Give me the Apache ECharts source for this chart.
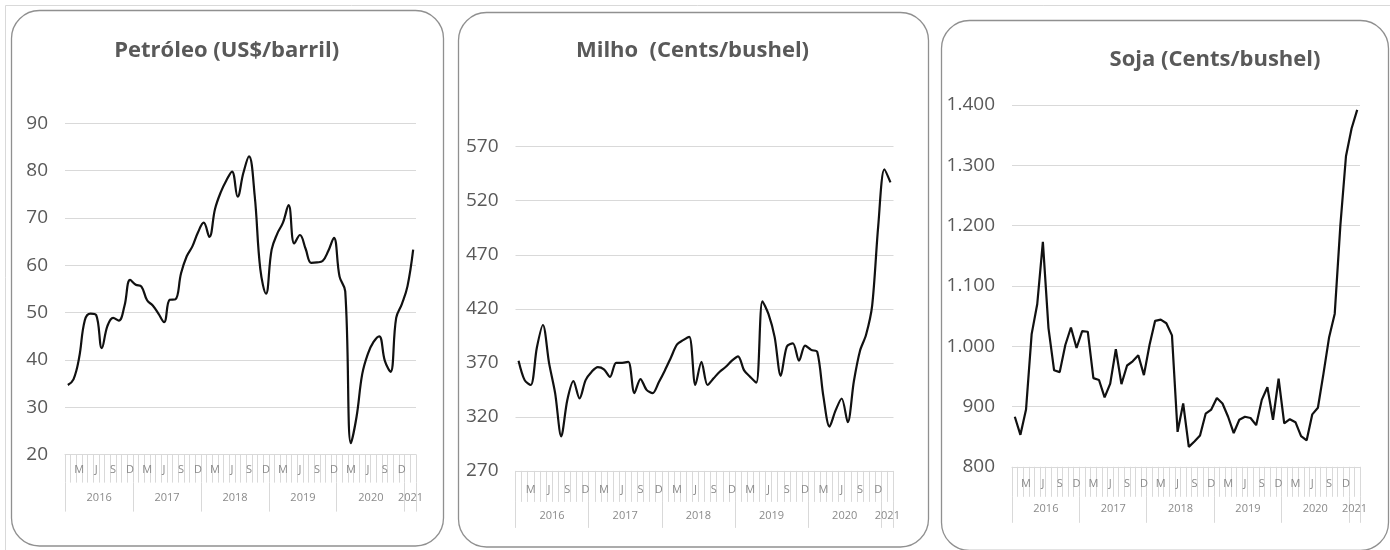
<!DOCTYPE html>
<html>
<head>
<meta charset="utf-8">
<script src="https://cdn.jsdelivr.net/npm/echarts@6/dist/echarts.min.js"></script>
<style>
html,body{margin:0;padding:0;background:#ffffff;}
#chart{width:1390px;height:550px;}
</style>
</head>
<body>
<div id="chart"></div>
<script>
// ---------- data ----------
const years = ['2016', '2017', '2018', '2019', '2020', '2021'];
const monthsPerYear = [12, 12, 12, 12, 12, 2];
const monthLetters = ['J', 'F', 'M', 'A', 'M', 'J', 'J', 'A', 'S', 'O', 'N', 'D'];
const shownMonths = [2, 5, 8, 11]; // M, J, S, D

const petroleoTicks = [20, 30, 40, 50, 60, 70, 80, 90];
const milhoTicks = [270, 320, 370, 420, 470, 520, 570];
const sojaTicks = [800, 900, 1000, 1100, 1200, 1300, 1400];

const petroleo = [
  34.7, 35.9, 40.5, 48.4, 49.8, 49.5, 42.5, 47.2, 48.9, 48.3, 51.4, 56.9,
  55.9, 55.5, 52.6, 51.5, 49.8, 48.0, 52.7, 52.8, 58.3, 61.9, 64.0, 67.0,
  69.0, 66.0, 71.9, 75.4, 77.9, 79.8, 74.5, 79.5, 83.0, 74.8, 59.2, 54.0,
  63.3, 66.7, 69.0, 72.7, 64.6, 66.4, 63.5, 60.5, 60.6, 60.9, 63.0, 65.8,
  57.6, 54.5, 22.4, 28.0, 37.0, 41.3, 43.8, 45.0, 39.8, 37.5, 48.9, 51.8,
  55.6, 63.3
];
const milho = [
  372, 354, 349.5, 384, 405, 370, 342, 302, 335.6, 353, 337, 354,
  361.8, 366, 364, 357, 370, 370, 371, 342, 355, 345, 342, 352,
  363, 375, 387, 391, 394, 349.5, 371, 349.5, 355.7, 361.8, 366.4, 372,
  376, 363, 357, 351.6, 427, 415, 394, 358, 385, 388, 372, 386,
  382, 380, 339, 311, 326, 337, 315, 353, 381, 396, 423, 497,
  549, 537
];
const soja = [
  883, 853, 895, 1020, 1070, 1173, 1030, 960, 957, 1002, 1031, 997,
  1025, 1024, 947, 944, 915, 938, 995, 937, 968, 975, 985, 952,
  1002, 1042, 1044, 1038, 1018, 858, 905, 833, 842, 852, 888, 895,
  914, 905, 883, 856, 878, 883, 881, 869, 911, 932, 878, 946,
  872, 879, 874, 851, 844, 887, 898, 955, 1015, 1054, 1200, 1315,
  1361, 1392
];

const titles = ['Petróleo (US$/barril)', 'Milho  (Cents/bushel)', 'Soja (Cents/bushel)'];

// ---------- derived category helpers ----------
const categories = [];
const yearLabelIdx = [];
years.forEach((y, yi) => {
  const start = categories.length;
  for (let m = 0; m < monthsPerYear[yi]; m++) {
    categories.push(y + '-' + String(m + 1).padStart(2, '0'));
  }
  yearLabelIdx.push(start + Math.floor((monthsPerYear[yi] - 1) / 2));
});
const monthOf = (v) => Number(String(v).slice(5)) - 1;

// ---------- styles / layout ----------
const GRID_COLOR = '#d9d9d9';
const AXIS_TEXT = '#595959';
const SMALL_TEXT = '#8a8a8a';
const FONT = '"Open Sans", "DejaVu Sans", sans-serif';

const panels = [
  { grid: { left: 65, top: 123.3, width: 351, height: 331.3 }, ticks: petroleoTicks, data: petroleo, smooth: 0.4,
    mTick: 28, mMargin: 10, yTick: 29, yMargin: 10, title: [226.7, 51] },
  { grid: { left: 515.5, top: 146.7, width: 378, height: 324.2 }, ticks: milhoTicks, data: milho, smooth: 0.3,
    mTick: 31, mMargin: 13, yTick: 26, yMargin: 8, title: [692.5, 51] },
  { grid: { left: 1012, top: 105, width: 348, height: 361.8 }, ticks: sojaTicks, data: soja, smooth: false,
    mTick: 30, mMargin: 12, yTick: 26, yMargin: 7, title: [1215, 60] }
];

function fmtThousands(v) {
  if (v >= 1000) return Math.floor(v / 1000) + '.' + String(v % 1000).padStart(3, '0');
  return String(v);
}

const grids = [], xAxes = [], yAxes = [], series = [];
panels.forEach((p, g) => {
  grids.push(Object.assign({ containLabel: false }, p.grid));
  xAxes.push({
    type: 'category', gridIndex: g, data: categories, boundaryGap: true, position: 'bottom',
    axisLine: { show: true, lineStyle: { color: GRID_COLOR, width: 1 } },
    axisTick: { show: true, interval: 0, length: p.mTick, lineStyle: { color: GRID_COLOR, width: 1 } },
    axisLabel: {
      show: true, interval: (i) => shownMonths.includes(i % 12),
      formatter: (v) => monthLetters[monthOf(v)],
      margin: p.mMargin, color: SMALL_TEXT, fontFamily: FONT, fontSize: 11
    },
    splitLine: { show: false }
  });
  xAxes.push({
    type: 'category', gridIndex: g, data: categories, boundaryGap: true, position: 'bottom', offset: p.mTick,
    axisLine: { show: false },
    axisTick: { show: true, interval: (i) => i % 12 === 0, length: p.yTick, lineStyle: { color: GRID_COLOR, width: 1 } },
    axisLabel: {
      show: true, interval: (i) => yearLabelIdx.includes(i),
      formatter: (v) => String(v).slice(0, 4),
      margin: p.yMargin, padding: [0, 0, 0, 6], color: SMALL_TEXT, fontFamily: FONT, fontSize: 11
    },
    splitLine: { show: false }
  });
  const t = p.ticks;
  yAxes.push({
    type: 'value', gridIndex: g, min: t[0], max: t[t.length - 1], interval: t[1] - t[0],
    axisLine: { show: false }, axisTick: { show: false },
    splitLine: { show: true, lineStyle: { color: GRID_COLOR, width: 1 } },
    axisLabel: { color: AXIS_TEXT, fontFamily: FONT, fontSize: 19, margin: 17, formatter: fmtThousands }
  });
  series.push({
    type: 'line', name: titles[g], xAxisIndex: g * 2, yAxisIndex: g, data: p.data,
    symbol: 'none', smooth: p.smooth,
    lineStyle: { color: '#111111', width: 2.2 }, z: 5
  });
});

const graphics = [
  { type: 'polyline', shape: { points: [[5.5, 550], [5.5, 5.5], [1390, 5.5]] }, style: { stroke: '#d9d9d9', lineWidth: 1, fill: null }, silent: true },
  { type: 'rect', shape: { x: 11.5, y: 10.5, width: 432, height: 535.5, r: 28 }, style: { stroke: '#909090', lineWidth: 1.3, fill: null }, silent: true },
  { type: 'rect', shape: { x: 458.5, y: 12.5, width: 470, height: 534.5, r: 28 }, style: { stroke: '#909090', lineWidth: 1.3, fill: null }, silent: true },
  { type: 'rect', shape: { x: 941.5, y: 20.5, width: 447, height: 530, r: 28 }, style: { stroke: '#909090', lineWidth: 1.3, fill: null }, silent: true }
];
panels.forEach((p, g) => {
  graphics.push({
    type: 'text', x: p.title[0], y: p.title[1], silent: true,
    style: { text: titles[g], fill: '#595959', font: 'bold 22px ' + FONT, textAlign: 'center', textVerticalAlign: 'middle' }
  });
});

const chart = echarts.init(document.getElementById('chart'), null, { renderer: 'canvas' });
chart.setOption({
  animation: false,
  backgroundColor: '#ffffff',
  grid: grids,
  xAxis: xAxes,
  yAxis: yAxes,
  series: series,
  graphic: graphics
});
</script>
</body>
</html>
